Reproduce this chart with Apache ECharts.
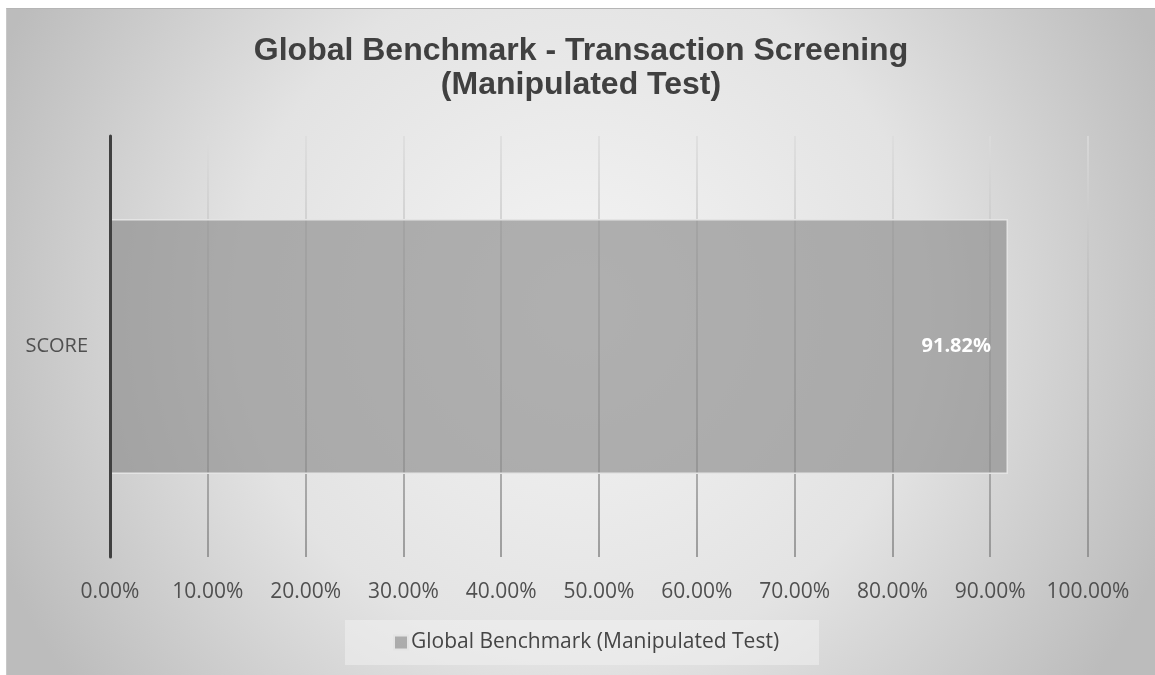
<!doctype html>
<html lang="en">
<head>
    <meta charset="UTF-8">
    <title>Global Benchmark - Transaction Screening</title>
    <style>
        *{margin: 0; padding: 0}
        body{background: #fff}
        #wrap{position: absolute; left: 6px; top: 8px; width: 1148px; height: 666px;
              border-top: 1px solid #b5b5b5; border-left: 1px solid #c8c8c8}
        #block{width: 1148px; height: 666px}
    </style>
</head>
<body>
<div id="wrap"><div id="block"></div></div>

<script src="https://cdn.jsdelivr.net/npm/echarts@6/dist/echarts.min.js"></script>
<script>
    // data
    const categories = ['SCORE'];
    const seriesName = 'Global Benchmark (Manipulated Test)';
    const scores = [0.9182];
    const titleLines = ['Global Benchmark - Transaction Screening', '(Manipulated Test)'];

    const font = '"Open Sans", "Noto Sans", sans-serif';
    const chart = echarts.init(document.getElementById('block'));

    let option = {
        backgroundColor: {
            type: 'radial', x: 0.5, y: 0.45, r: 0.95,
            colorStops: [
                {offset: 0, color: '#f4f4f4'},
                {offset: 0.55, color: '#e3e3e3'},
                {offset: 1, color: '#bcbcbc'}
            ]
        },
        title: {
            text: titleLines.join('\n'),
            left: 'center',
            top: 20,
            padding: [5, 5, 5, 13],
            textStyle: {
                fontFamily: '"Liberation Sans", Arial, sans-serif',
                fontSize: 32, fontWeight: 'bold', color: '#404040', lineHeight: 34
            }
        },
        grid: {left: 103, right: 67, top: 127, bottom: 118, containLabel: false},
        xAxis: {
            type: 'value', min: 0, max: 1, interval: 0.1,
            axisLine: {show: false}, axisTick: {show: false},
            axisLabel: {
                margin: 25, color: '#505050', fontFamily: font, fontSize: 21,
                formatter: v => (v * 100).toFixed(2) + '%'
            },
            splitLine: {
                lineStyle: {
                    width: 1.5,
                    color: {
                        type: 'linear', x: 0, y: 127, x2: 0, y2: 548, global: true,
                        colorStops: [{offset: 0, color: '#dcdcdc'}, {offset: 1, color: '#858585'}]
                    }
                }
            }
        },
        yAxis: {
            type: 'category', data: categories, z: 5,
            axisLine: {lineStyle: {color: '#404040', width: 3}},
            axisTick: {show: false},
            axisLabel: {margin: 22, color: '#505050', fontFamily: font, fontSize: 20}
        },
        legend: {
            bottom: 10, left: 338,
            padding: [12, 40, 12, 48],
            backgroundColor: 'rgba(240,240,240,0.55)',
            itemWidth: 14, itemHeight: 14, itemGap: 10,
            icon: 'rect',
            textStyle: {color: '#454545', fontFamily: font, fontSize: 21, padding: [0, 0, 0, -2]}
        },
        series: [{
            name: seriesName,
            type: 'bar',
            data: scores,
            barWidth: '60.6%',
            itemStyle: {color: 'rgba(140,140,140,0.66)', borderColor: '#e4e4e4', borderWidth: 1.5},
            label: {
                show: true, position: 'insideRight', distance: 17,
                color: '#fff', fontFamily: font, fontSize: 20, fontWeight: 'bold',
                formatter: p => (p.value * 100).toFixed(2) + '%'
            }
        }]
    };
    chart.setOption(option);
</script>
</body>
</html>
